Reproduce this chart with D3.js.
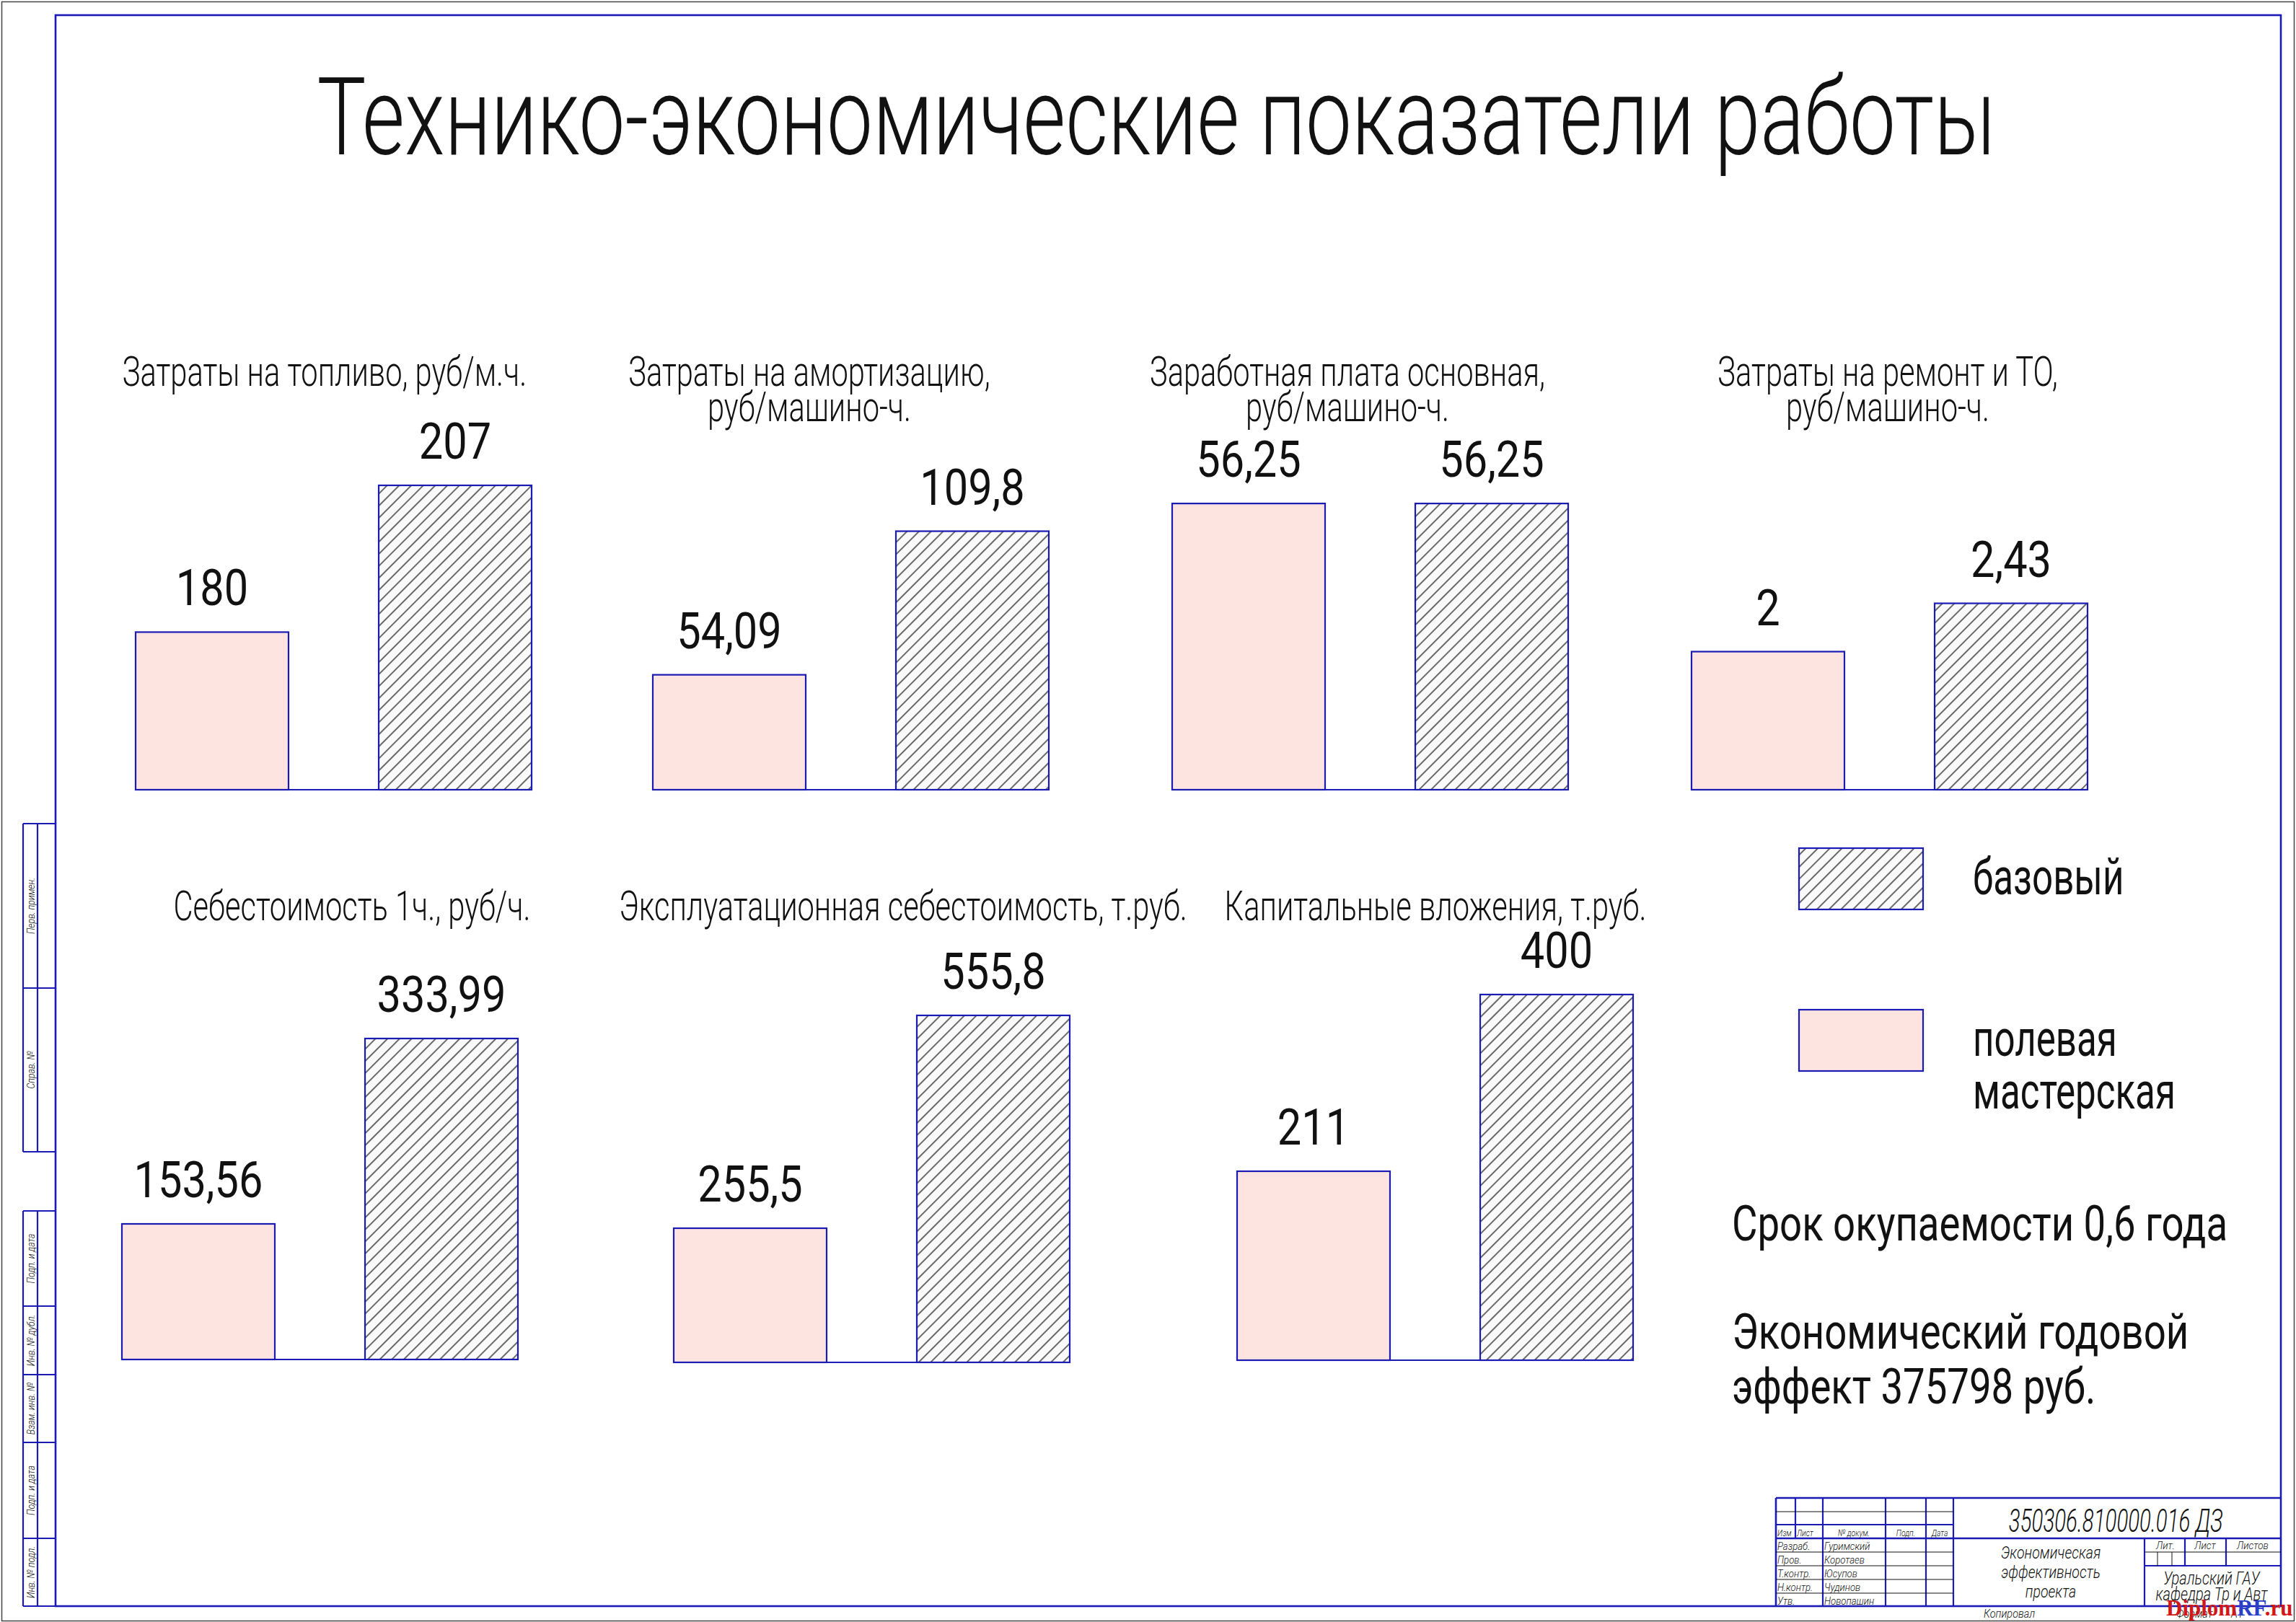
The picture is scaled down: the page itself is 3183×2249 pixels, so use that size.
<!DOCTYPE html>
<html lang="ru">
<head>
<meta charset="utf-8">
<title>Технико-экономические показатели работы</title>
<script src="https://cdn.jsdelivr.net/npm/d3@7"></script>
<style>
  html, body { margin: 0; padding: 0; background: #fff; }
  svg { display: block; }
  text { font-family: Roboto, "DejaVu Sans", sans-serif; font-weight: 300; fill: #111; }
  text.bold { font-weight: 400; }
</style>
</head>
<body>
<div id="sheet"></div>
<script>
// ========== Data ==========
const sheetTitle = "Технико-экономические показатели работы";
const panelTitles = [
  ["Затраты на топливо, руб/м.ч."],
  ["Затраты на амортизацию,", "руб/машино-ч."],
  ["Заработная плата основная,", "руб/машино-ч."],
  ["Затраты на ремонт и ТО,", "руб/машино-ч."],
  ["Себестоимость 1ч., руб/ч."],
  ["Эксплуатационная себестоимость, т.руб."],
  ["Капитальные вложения, т.руб."],
];
const seriesNames = ["полевая мастерская", "базовый"];
const fieldValues = [180, 54.09, 56.25, 2, 153.56, 255.5, 211];
const baseValues = [207, 109.8, 56.25, 2.43, 333.99, 555.8, 400];
// every panel has its own truncated value axis
const axisMin = [151, 9.5, 0, 0.77, 21.6, 66.2, 8.9];
const axisMax = [220, 155, 73.7, 4.11, 386.6, 595.4, 410];
const summaryLines = ["Срок окупаемости 0,6 года", "Экономический годовой", "эффект 375798 руб."];

// title block (stamp) texts
const docCode = "350306.810000.016 ДЗ";
const docName = ["Экономическая", "эффективность", "проекта"];
const orgName = ["Уральский ГАУ", "кафедра Тр и Авт"];
const stampHeads = ["Изм", "Лист", "№ докум.", "Подп.", "Дата"];
const stampRoles = ["Разраб.", "Пров.", "Т.контр.", "Н.контр.", "Утв."];
const stampNames = ["Гуримский", "Коротаев", "Юсупов", "Чудинов", "Новопашин"];
const sideLabels = ["Перв. примен.", "Справ. №", "Подп. и дата", "Инв. № дубл.", "Взам. инв. №", "Подп. и дата", "Инв. № подл."];

// ========== Layout ==========
const W = 3183, H = 2249;
const BLUE = "#1a1ab4";
const PINK = "#fde4e0";
const panelLayout = [
  { x: 188, base: 1095, capX: 450, capY: 535 },
  { x: 905, base: 1095, capX: 1122, capY: 535 },
  { x: 1625, base: 1095, capX: 1868, capY: 535 },
  { x: 2345, base: 1095, capX: 2617, capY: 535 },
  { x: 169, base: 1885, capX: 488, capY: 1276 },
  { x: 934, base: 1889, capX: 1252, capY: 1276 },
  { x: 1715, base: 1886, capX: 1990, capY: 1276 },
];
const groupWidth = 549;
const plotHeight = 520;

// ========== Entry Point ==========
document.addEventListener("DOMContentLoaded", () => {
  const svg = d3.select("#sheet").append("svg").attr("width", W).attr("height", H);
  svg.append("rect").attr("width", W).attr("height", H).attr("fill", "#fff");
  buildDefs(svg);
  drawFrame(svg);
  addText(svg, sheetTitle, 1603, 214, { size: 150, sx: 0.76 });
  panelLayout.forEach((p, i) => drawPanel(svg, p, i));
  drawLegend(svg);
  drawSummary(svg);
  drawSideStrip(svg);
  drawStamp(svg);
});

// ========== Helpers ==========
function addText(parent, str, x, y, opts = {}) {
  const t = parent
    .append("text")
    .attr("transform", `translate(${x},${y})${opts.rotate ? ` rotate(${opts.rotate})` : ""} scale(${opts.sx || 1},1)`)
    .attr("font-size", opts.size || 56)
    .attr("text-anchor", opts.anchor || "middle")
    .text(str);
  if (opts.italic) t.attr("font-style", "italic");
  if (opts.bold) t.attr("class", "bold");
  return t;
}

function line(parent, x1, y1, x2, y2, stroke, width) {
  parent
    .append("line")
    .attr("x1", x1).attr("y1", y1).attr("x2", x2).attr("y2", y2)
    .attr("stroke", stroke)
    .attr("stroke-width", width);
}

const fmt = (v) => String(v).replace(".", ",");

function buildDefs(svg) {
  const pat = svg
    .append("defs")
    .append("pattern")
    .attr("id", "hatch")
    .attr("patternUnits", "userSpaceOnUse")
    .attr("width", 11.8)
    .attr("height", 11.8)
    .attr("patternTransform", "rotate(45)");
  pat.append("rect").attr("width", 11.8).attr("height", 11.8).attr("fill", "#fafafa");
  pat.append("line")
    .attr("x1", 5.9).attr("y1", 0).attr("x2", 5.9).attr("y2", 11.8)
    .attr("stroke", "#1e1e1e")
    .attr("stroke-width", 1.3);
}

// ========== Frame ==========
function drawFrame(svg) {
  svg.append("rect")
    .attr("x", 2.5).attr("y", 2.5).attr("width", W - 5).attr("height", H - 4)
    .attr("fill", "none").attr("stroke", "#444").attr("stroke-width", 1.5);
  svg.append("rect")
    .attr("x", 77).attr("y", 21).attr("width", 3162 - 77).attr("height", 2227 - 21)
    .attr("fill", "none").attr("stroke", BLUE).attr("stroke-width", 2.6);
}

// ========== Bar Panels ==========
function drawPanel(svg, p, i) {
  const g = svg.append("g");
  const values = [fieldValues[i], baseValues[i]];

  const x = d3.scaleBand()
    .domain(seriesNames)
    .range([p.x, p.x + groupWidth])
    .paddingInner(0.371)
    .paddingOuter(0);

  const y = d3.scaleLinear()
    .domain([axisMin[i], axisMax[i]])
    .range([p.base, p.base - plotHeight]);

  // caption
  panelTitles[i].forEach((s, k) => addText(g, s, p.capX, p.capY + k * 49, { size: 57, sx: 0.73 }));

  // base line
  line(g, p.x, p.base, p.x + groupWidth, p.base, BLUE, 2.2);

  // bars
  g.selectAll("rect.bar")
    .data(values)
    .enter()
    .append("rect")
    .attr("class", "bar")
    .attr("x", (d, k) => x(seriesNames[k]))
    .attr("y", (d) => y(d))
    .attr("width", x.bandwidth())
    .attr("height", (d) => p.base - y(d))
    .attr("fill", (d, k) => (k === 0 ? PINK : "url(#hatch)"))
    .attr("stroke", BLUE)
    .attr("stroke-width", 2.2);

  // value labels
  values.forEach((d, k) =>
    addText(g, fmt(d), x(seriesNames[k]) + x.bandwidth() / 2, y(d) - 37, { size: 70, sx: 0.85, bold: true })
  );
}

// ========== Legend ==========
function drawLegend(svg) {
  const g = svg.append("g");
  const items = [
    { name: seriesNames[1], fill: "url(#hatch)", top: 1176 },
    { name: seriesNames[0], fill: PINK, top: 1400 },
  ];
  items.forEach((it) => {
    g.append("rect")
      .attr("x", 2494).attr("y", it.top).attr("width", 172).attr("height", 85)
      .attr("fill", it.fill).attr("stroke", BLUE).attr("stroke-width", 2.2);
    it.name.split(" ").forEach((word, k) =>
      addText(g, word, 2735, it.top + 64 + k * 73, { size: 70, sx: 0.73, anchor: "start", bold: true })
    );
  });
}

// ========== Summary ==========
function drawSummary(svg) {
  const ys = [1720, 1870, 1946];
  summaryLines.forEach((s, k) => addText(svg, s, 2401, ys[k], { size: 69, sx: 0.79, anchor: "start", bold: true }));
}

// ========== Side Strip ==========
function drawSideStrip(svg) {
  const g = svg.append("g");
  const rows = [[1142, 1370], [1370, 1597], [1679, 1811], [1811, 1906], [1906, 2000], [2000, 2133], [2133, 2227]];
  [[1142, 1597], [1679, 2227]].forEach(([a, b]) => {
    line(g, 32, a, 32, b, BLUE, 2.2);
    line(g, 52, a, 52, b, BLUE, 2.2);
  });
  rows.forEach(([a, b], k) => {
    line(g, 32, a, 77, a, BLUE, 2.2);
    line(g, 32, b, 77, b, BLUE, 2.2);
    addText(g, sideLabels[k], 48, (a + b) / 2, { size: 15, rotate: -90, italic: true, sx: 0.82 });
  });
}

// ========== Title Block ==========
function drawStamp(svg) {
  const g = svg.append("g");
  const L = 2462, R = 3162, T = 2077, B = 2227;

  // thick lines
  line(g, L, T, R, T, BLUE, 2.6);
  line(g, L, 2114, 2708, 2114, BLUE, 2.2);
  line(g, L, 2133, R, 2133, BLUE, 2.6);
  line(g, 2973, 2171, R, 2171, BLUE, 2.2);
  line(g, L, T, L, B, BLUE, 2.6);
  line(g, 2489, T, 2489, 2133, BLUE, 2.2);
  [2527, 2614, 2670, 2708].forEach((x) => line(g, x, T, x, B, BLUE, 2.2));
  line(g, 2973, 2133, 2973, B, BLUE, 2.2);
  [3029, 3086].forEach((x) => line(g, x, 2133, x, 2171, BLUE, 2.2));

  // thin lines
  [2096, 2152, 2171, 2190, 2209].forEach((y) => line(g, L, y, 2708, y, "#111", 1));
  line(g, 2973, 2152, R, 2152, "#111", 1);
  [2991, 3011].forEach((x) => line(g, x, 2152, x, 2171, "#111", 1));

  // header row
  const headX = [2464, 2491, 2570, 2642, 2689];
  stampHeads.forEach((s, k) =>
    addText(g, s, headX[k], 2130, { size: 13, italic: true, sx: 0.8, anchor: k < 2 ? "start" : "middle" })
  );
  stampRoles.forEach((s, k) => {
    addText(g, s, 2464, 2149 + k * 19, { size: 15, italic: true, sx: 0.88, anchor: "start" });
    addText(g, stampNames[k], 2529, 2149 + k * 19, { size: 15, italic: true, sx: 0.88, anchor: "start" });
  });

  addText(g, docCode, 2933, 2124, { size: 44, italic: true, sx: 0.67 });
  docName.forEach((s, k) => addText(g, s, 2843, 2161 + k * 27, { size: 23, italic: true, sx: 0.85 }));
  ["Лит.", "Лист", "Листов"].forEach((s, k) =>
    addText(g, s, [3002, 3057, 3123][k], 2148, { size: 15, italic: true, sx: 0.9 })
  );
  orgName.forEach((s, k) => addText(g, s, 3066, 2197 + k * 22, { size: 25, italic: true, sx: 0.8 }));

  addText(g, "Копировал", 2750, 2243, { size: 17, italic: true, sx: 0.85, anchor: "start" });
  addText(g, "Формат", 3017, 2243, { size: 17, italic: true, sx: 0.85, anchor: "start" });
  addText(g, "А1", 3093, 2243, { size: 17, italic: true, sx: 0.85, anchor: "start" });

  // watermark
  const wm = g.append("text")
    .attr("x", 3003).attr("y", 2240)
    .style("font-family", "'Liberation Serif', serif")
    .style("font-weight", 700)
    .attr("font-size", 31);
  [["Diplom", "#d01818"], ["RF", "#2a40c8"], [".ru", "#d01818"]].forEach(([s, c]) =>
    wm.append("tspan").style("fill", c).text(s)
  );
}
</script>
</body>
</html>
